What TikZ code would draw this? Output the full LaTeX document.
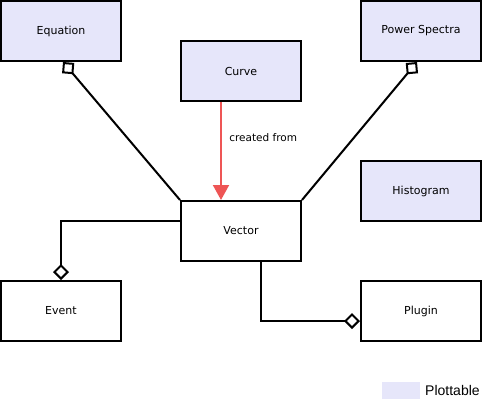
\documentclass[tikz,border=0pt]{standalone}
\usepackage{fontspec}
\setmainfont{DejaVu Sans}
\newfontfamily\legendfont{Liberation Sans}
\usetikzlibrary{arrows.meta}
\definecolor{plotfill}{RGB}{230,230,250}
\definecolor{madered}{RGB}{238,85,85}
\tikzset{x=1pt, y=-1pt}
\tikzset{
 classbox/.style={draw, line width=2pt, minimum width=120pt, minimum height=60pt, inner sep=0pt, font=\fontsize{11}{13}\selectfont},
 plotbox/.style={classbox, fill=plotfill},
 aggr/.style={line width=2pt, -{Diamond[open,length=16pt,width=16pt]}},
}

\begin{document}
\begin{tikzpicture}
 \useasboundingbox (0,0) rectangle (482,407);
 \node[plotbox] (eq) at (61,31) {Equation};
 \node[plotbox] (curve) at (241,71) {Curve};
 \node[plotbox] (ps) at (421,31) {Power Spectra};
 \node[plotbox] (hist) at (421,191) {Histogram};
 \node[classbox] (vec) at (241,231) {Vector};
 \node[classbox] (ev) at (61,311) {Event};
 \node[classbox] (plug) at (421,311) {Plugin};
 % legend
 \node[fill=plotfill, minimum width=38pt, minimum height=17pt, inner sep=0pt] (key) at (401,390.5) {};
 \node[font=\legendfont\fontsize{14}{16}\selectfont, anchor=west, inner sep=0pt] (keytext) at (425,390.5) {Plottable};
 % connectors
 \draw[aggr] (vec.north west) -- ([xshift=2pt]eq.south);
 \draw[aggr] (vec.north east) -- ([xshift=-4pt]ps.south);
 \draw[aggr] ([yshift=10pt]vec.west) -| (ev.north);
 \draw[aggr] ([xshift=20pt]vec.south) |- ([yshift=-10pt]plug.west);
 \draw[madered, line width=2pt, -{Triangle[length=15pt,width=16pt]}] ([xshift=-20pt]curve.south) -- ([xshift=-20pt]vec.north)
   node[pos=0.36, right=4pt, black, font=\fontsize{10.5}{12}\selectfont] (lbl) {created from};
\end{tikzpicture}
\end{document}
